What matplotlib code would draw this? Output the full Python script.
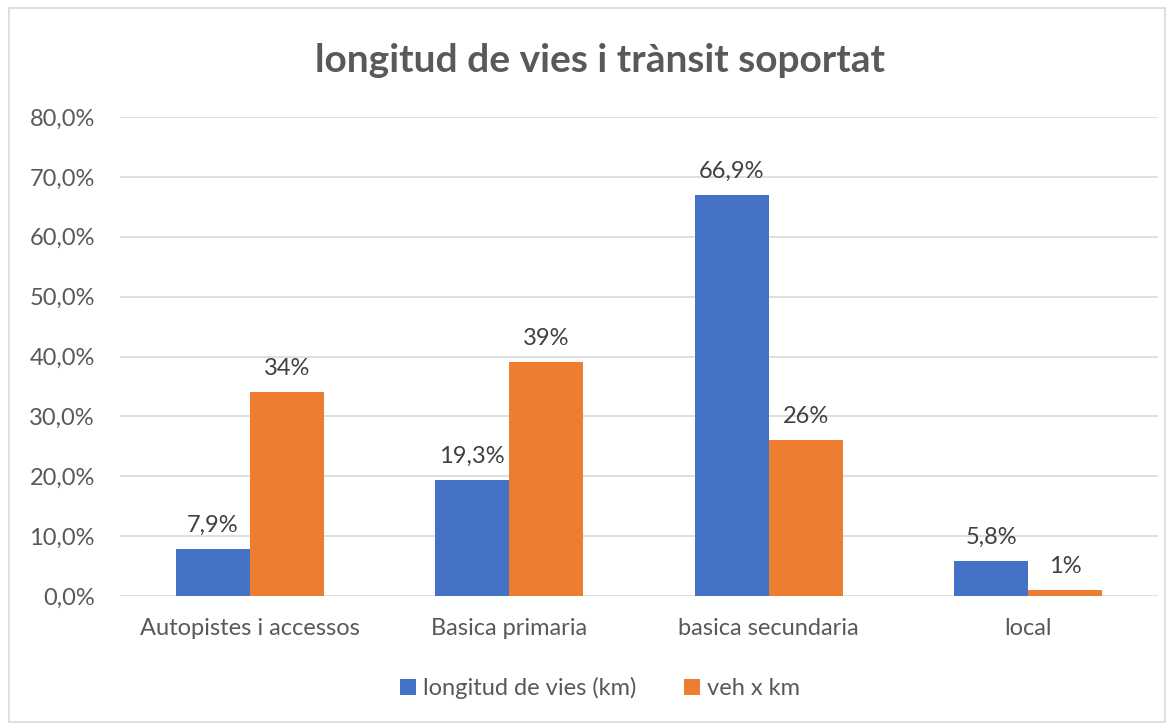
import matplotlib
matplotlib.use("Agg")
import matplotlib.pyplot as plt
from matplotlib.patches import Rectangle
import numpy as np

categories = ["Autopistes i accessos", "Basica primaria", "basica secundaria", "local"]
longitud = [7.9, 19.3, 66.9, 5.8]
veh_km = [34, 39, 26, 1]
longitud_labels = ["7,9%", "19,3%", "66,9%", "5,8%"]
veh_labels = ["34%", "39%", "26%", "1%"]
yticks = [0, 10, 20, 30, 40, 50, 60, 70, 80]
ytick_labels = ["0,0%", "10,0%", "20,0%", "30,0%", "40,0%", "50,0%", "60,0%", "70,0%", "80,0%"]

plt.rcParams['font.family'] = ['Lato', 'DejaVu Sans']
txt = '#595959'
fs = 17

fig = plt.figure(figsize=(11.69, 7.25), dpi=100)
fig.patches.append(Rectangle((9/1169, 3/725), 1156/1169, 714/725, transform=fig.transFigure,
                             fill=False, edgecolor='#D9D9D9', linewidth=1.2))
ax = fig.add_axes([120/1169, 1-596/725, 1038/1169, 479/725])

x = np.arange(len(categories))
w = 0.285
b1 = ax.bar(x - w/2, longitud, w, color='#4472C4', label='longitud de vies (km)', zorder=3)
b2 = ax.bar(x + w/2, veh_km, w, color='#ED7D31', label='veh x km', zorder=3)

for rect, lab in zip(b1, longitud_labels):
    ax.text(rect.get_x() + rect.get_width()/2, rect.get_height() + 2.2, lab,
            ha='center', va='bottom', fontsize=fs, color='#404040')
for rect, lab in zip(b2, veh_labels):
    ax.text(rect.get_x() + rect.get_width()/2, rect.get_height() + 2.2, lab,
            ha='center', va='bottom', fontsize=fs, color='#404040')

ax.set_xlim(-0.5, 3.5)
ax.set_ylim(0, 80)
ax.set_yticks(yticks)
ax.set_yticklabels(ytick_labels, fontsize=fs, color=txt)
ax.set_xticks(x)
ax.set_xticklabels(categories, fontsize=fs, color=txt)
ax.tick_params(axis='both', length=0)
ax.tick_params(axis='x', pad=16)
ax.tick_params(axis='y', pad=18)
ax.grid(axis='y', color='#D9D9D9', linewidth=1.2, zorder=0)
for s in ax.spines.values():
    s.set_visible(False)

fig.text(600/1169, 1-60/725, "longitud de vies i trànsit soportat", ha='center', va='center',
         fontsize=28, fontweight='bold', color=txt)

leg = fig.legend(loc='center', bbox_to_anchor=(600/1169, 1-688/725), ncol=2, frameon=False,
                 fontsize=fs, handlelength=0.7, handleheight=0.7, handletextpad=0.3, columnspacing=2.0)
for t in leg.get_texts():
    t.set_color(txt)

fig.savefig("out.png", dpi=100)
